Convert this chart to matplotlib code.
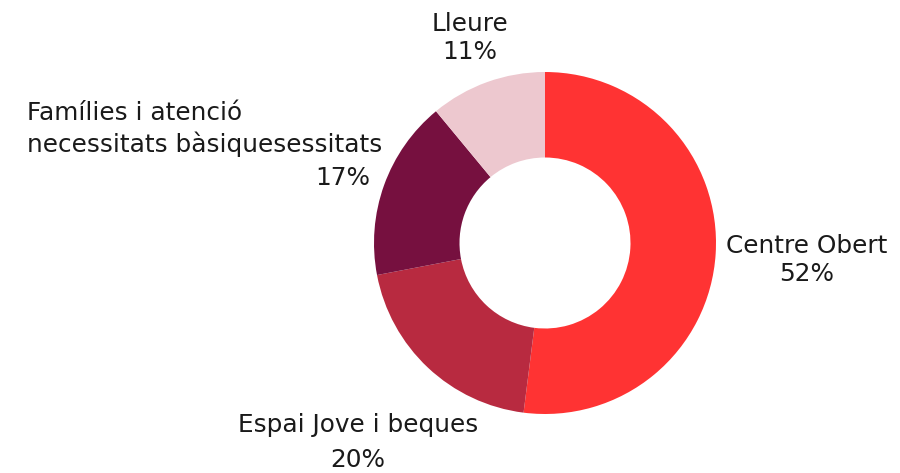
import matplotlib.pyplot as plt

categories = ['Centre Obert', 'Espai Jove i beques',
              'Famílies i atenció\nnecessitats bàsiquesessitats', 'Lleure']
values = [52, 20, 17, 11]
colors = ['#FF3333', '#B82A40', '#76103F', '#EDC8CF']

W, H = 900, 473
fig = plt.figure(figsize=(9, 4.73), dpi=100)
ax = fig.add_axes([0, 0, 1, 1])

cx, cy, r = 545, H - 243, 171
ax.pie(values, colors=colors, startangle=90, counterclock=False,
       center=(cx, cy), radius=r,
       wedgeprops=dict(width=r * 0.5, linewidth=0))
ax.set_xlim(0, W)
ax.set_ylim(0, H)
ax.set_aspect('equal')
ax.axis('off')

fs = 17.8
tc = '#1a1a1a'
pct = ['%d%%' % v for v in values]

# Centre Obert
ax.text(807, H - 246, categories[0], ha='center', va='center', fontsize=fs, color=tc)
ax.text(807, H - 274, pct[0], ha='center', va='center', fontsize=fs, color=tc)
# Espai Jove
ax.text(358, H - 425, categories[1], ha='center', va='center', fontsize=fs, color=tc)
ax.text(358, H - 460, pct[1], ha='center', va='center', fontsize=fs, color=tc)
# Famílies
ax.text(27, H - 129, categories[2], ha='left', va='center', fontsize=fs, color=tc,
        linespacing=1.36)
ax.text(370, H - 178, pct[2], ha='right', va='center', fontsize=fs, color=tc)
# Lleure
ax.text(470, H - 24, categories[3], ha='center', va='center', fontsize=fs, color=tc)
ax.text(470, H - 52, pct[3], ha='center', va='center', fontsize=fs, color=tc)

fig.savefig('out.png', dpi=100, facecolor='white')
